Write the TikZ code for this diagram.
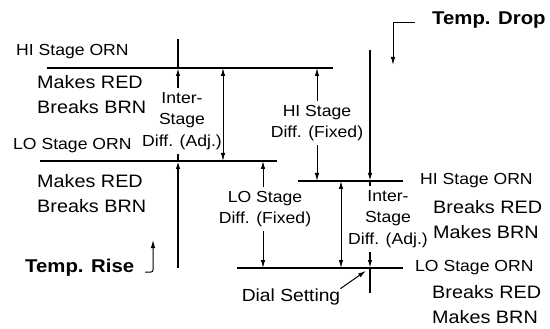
\documentclass[tikz,border=0pt]{standalone}
\usepackage{fontspec}
\setmainfont{Liberation Sans}[FakeStretch=1.1]
\usetikzlibrary{arrows.meta}

\begin{document}
\begin{tikzpicture}[x=1pt, y=-1pt, >={Latex[length=8pt,width=4.5pt]},
        level/.style={black, line width=1.9pt},
        flow/.style={black, line width=1.5pt},
        dim/.style={black, line width=1pt},
        lbl/.style={font=\fontsize{16}{21.5}\selectfont, align=center, inner xsep=0pt, inner ysep=4pt},
        state/.style={font=\fontsize{18}{25}\selectfont, align=left, inner sep=0pt, anchor=west},
        orn/.style={font=\fontsize{16}{19}\selectfont, inner sep=0pt, anchor=west},
        temp/.style={font=\fontsize{18.5}{22}\selectfont\bfseries, inner sep=0pt, anchor=west}]
        \useasboundingbox (0, 0) rectangle (550, 329);

        % switching levels
        \coordinate (hiL1) at (47, 68);
        \coordinate (hiL2) at (333, 68);
        \coordinate (loL1) at (40, 161);
        \coordinate (loL2) at (277, 161);
        \coordinate (hiR1) at (298, 181);
        \coordinate (hiR2) at (403, 181);
        \coordinate (loR1) at (237, 268);
        \coordinate (loR2) at (403, 268);
        \draw[level] (hiL1) -- (hiL2);
        \draw[level] (loL1) -- (loL2);
        \draw[level] (hiR1) -- (hiR2);
        \draw[level] (loR1) -- (loR2);

        % texts at the levels
        \node[orn] (hiornL) at (16, 52) {HI Stage ORN};
        \node[state] (stateHIL) at (37, 95) {Makes RED\\Breaks BRN};
        \node[orn] (loornL) at (13, 146) {LO Stage ORN};
        \node[state] (stateLOL) at (37, 193.5) {Makes RED\\Breaks BRN};
        \node[orn] (hiornR) at (420, 181) {HI Stage ORN};
        \node[state] (stateHIR) at (433, 219.5) {Breaks RED\\Makes BRN};
        \node[orn] (loornR) at (415, 268) {LO Stage ORN};
        \node[state] (stateLOR) at (432, 305) {Breaks RED\\Makes BRN};

        % differentials
        \node[lbl] (adjL) at (182, 121) {Inter-\\Stage\\Diff. (Adj.)};
        \node[lbl] (fixHI) at (317, 123) {HI Stage\\Diff. (Fixed)};
        \node[lbl] (fixLO) at (265, 209) {LO Stage\\Diff. (Fixed)};
        \node[lbl] (adjR) at (388, 219) {Inter-\\Stage\\Diff. (Adj.)};

        % temperature rise, left
        \coordinate (riseB) at (178, 268);
        \coordinate (riseT) at (178, 39);
        \draw[flow, ->] (riseB) -- (riseB |- loL1);
        \draw[flow] (riseB |- loL1) -- (riseB |- adjL.south);
        \draw[flow, ->] (riseB |- adjL.north) -- (riseB |- hiL1);
        \draw[flow] (riseB |- hiL1) -- (riseT);

        % temperature drop, right
        \coordinate (dropT) at (370, 50);
        \coordinate (dropB) at (370, 293);
        \draw[flow, ->] (dropT) -- (dropT |- hiR1);
        \draw[flow] (dropT |- hiR1) -- (dropT |- adjR.north);
        \draw[flow, ->] (dropT |- adjR.south) -- (dropT |- loR1);
        \draw[flow] (dropT |- loR1) -- (dropB);

        % fixed differentials
        \coordinate (dimHI) at (317, 0);
        \coordinate (dimLO) at (263, 0);
        \draw[dim, ->] (fixHI.north -| dimHI) -- (hiL1 -| dimHI);
        \draw[dim, ->] (fixHI.south -| dimHI) -- (hiR1 -| dimHI);
        \draw[dim, ->] (fixLO.north -| dimLO) -- (loL1 -| dimLO);
        \draw[dim, ->] (fixLO.south -| dimLO) -- (loR1 -| dimLO);

        % inter-stage differentials
        \coordinate (dimL) at (223, 0);
        \coordinate (dimR) at (341, 0);
        \draw[dim, <->] (hiL1 -| dimL) -- (loL1 -| dimL);
        \draw[dim, <->] (hiR1 -| dimR) -- (loR1 -| dimR);

        % direction pointers
        \node[temp] (drop) at (432, 20) {Temp. Drop};
        \coordinate (dropH) at (415, 23);
        \coordinate (dropE) at (393, 65);
        \draw[dim, ->] (dropH) -| (dropE);

        \node[temp] (rise) at (25, 268) {Temp. Rise};
        \coordinate (riseH) at (145, 272);
        \coordinate (riseE) at (153, 240);
        \draw[dim, ->, rounded corners=2pt] (riseH) -| (riseE);

        % dial setting
        \node[font=\fontsize{17.5}{20}\selectfont, inner sep=0pt] (dial) at (291, 297) {Dial Setting};
        \draw[dim, ->, shorten >=5pt] (dial.north east) -- (dropT |- loR1);
\end{tikzpicture}
\end{document}
